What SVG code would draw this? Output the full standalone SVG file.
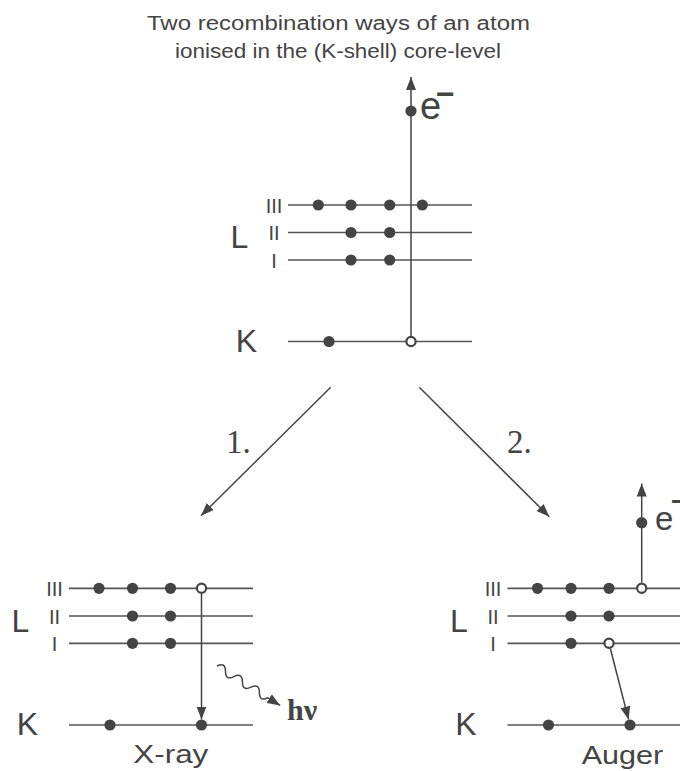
<svg xmlns="http://www.w3.org/2000/svg" width="680" height="771" viewBox="0 0 680 771">
<defs>
<marker id="ah" markerUnits="userSpaceOnUse" markerWidth="14" markerHeight="11" refX="13" refY="5.5" orient="auto" viewBox="0 0 14 11"><path d="M0,0.5 L13,5.5 L0,10.5 z" fill="#444"/></marker>
</defs>
<style>
.lv{stroke:#555;stroke-width:1.7;fill:none}
.d{fill:#444}
.h{fill:#fff;stroke:#444;stroke-width:2.2}
.t{font-family:"Liberation Sans",Arial,sans-serif;fill:#444}
.s{font-family:"Liberation Serif","Times New Roman",serif;fill:#444}
.num{font-size:20px;text-anchor:middle}
.big{font-size:32px;text-anchor:middle}
.ar{stroke:#444;stroke-width:1.5;fill:none;marker-end:url(#ah)}
</style>
<rect width="680" height="771" fill="#fff"/>

<g id="title">
<text class="t" x="147" y="30" font-size="20" textLength="383" lengthAdjust="spacingAndGlyphs">Two recombination ways of an atom</text>
<text class="t" x="175" y="58" font-size="20" textLength="326" lengthAdjust="spacingAndGlyphs">ionised in the (K-shell) core-level</text>
</g>

<g id="atom-ionised">
<path class="lv" d="M288,205H472M288,232.5H472M288,260H472M288,341.5H472"/>
<line class="ar" x1="411" y1="341.5" x2="411" y2="77"/>
<circle class="d" cx="318.3" cy="205" r="5.6"/><circle class="d" cx="351" cy="205" r="5.6"/><circle class="d" cx="389.7" cy="205" r="5.6"/><circle class="d" cx="422.3" cy="205" r="5.6"/>
<circle class="d" cx="351" cy="232.5" r="5.6"/><circle class="d" cx="389.7" cy="232.5" r="5.6"/>
<circle class="d" cx="351" cy="260" r="5.6"/><circle class="d" cx="389.7" cy="260" r="5.6"/>
<circle class="d" cx="329" cy="341.5" r="5.6"/>
<circle class="h" cx="411" cy="341.5" r="4.6"/>
<circle class="d" cx="411" cy="111" r="5.6"/>
<text class="t" x="420" y="119" font-size="38">e<tspan x="436" y="105" font-size="32" font-weight="bold">−</tspan></text>
<text class="t num" x="274" y="212.5">III</text>
<text class="t num" x="274" y="240">II</text>
<text class="t num" x="274" y="267.5">I</text>
<text class="t big" x="239.5" y="248">L</text>
<text class="t big" x="246.5" y="351.5">K</text>
</g>

<g id="connectors">
<line class="ar" x1="330.7" y1="387.3" x2="201" y2="515.7"/>
<line class="ar" x1="419.3" y1="387.3" x2="549.3" y2="516.7"/>
<text class="s" x="226" y="452.7" font-size="33">1.</text>
<text class="s" x="507" y="452.7" font-size="33">2.</text>
</g>

<g id="xray">
<path class="lv" d="M69,588.3H253M69,616H253M69,643.3H253M69,725H253"/>
<line class="ar" x1="201.5" y1="594" x2="201.5" y2="719.5"/>
<circle class="d" cx="99" cy="588.3" r="5.6"/><circle class="d" cx="132.5" cy="588.3" r="5.6"/><circle class="d" cx="170.5" cy="588.3" r="5.6"/>
<circle class="h" cx="201.5" cy="588.3" r="4.6"/>
<circle class="d" cx="132.5" cy="616" r="5.6"/><circle class="d" cx="170.5" cy="616" r="5.6"/>
<circle class="d" cx="132.5" cy="643.3" r="5.6"/><circle class="d" cx="170.5" cy="643.3" r="5.6"/>
<circle class="d" cx="110" cy="725" r="5.6"/><circle class="d" cx="201.5" cy="725" r="5.6"/>
<path class="ar" transform="translate(217,666) rotate(32)" d="M0,0 q5,-8 10,0 t10,0 t10,0 t10,0 t10,0 t10,0 L74.5,0"/>
<text class="s" x="287" y="720" font-size="30" font-weight="bold">hν</text>
<text class="t num" x="54.5" y="595.8">III</text>
<text class="t num" x="54.5" y="623.5">II</text>
<text class="t num" x="54.5" y="650.8">I</text>
<text class="t big" x="20.5" y="631.7">L</text>
<text class="t big" x="27.5" y="735">K</text>
<text class="t" x="133.3" y="763" font-size="25" textLength="75" lengthAdjust="spacingAndGlyphs">X-ray</text>
</g>

<g id="auger">
<path class="lv" d="M507.5,588.3H690M507.5,616H690M507.5,643.3H690M507.5,725H690"/>
<line class="ar" x1="641.7" y1="582.5" x2="641.7" y2="483.5"/>
<line class="ar" x1="610.4" y1="648.7" x2="628.6" y2="719.5"/>
<circle class="d" cx="537.5" cy="588.3" r="5.6"/><circle class="d" cx="571" cy="588.3" r="5.6"/><circle class="d" cx="609" cy="588.3" r="5.6"/>
<circle class="h" cx="641.7" cy="588.3" r="4.6"/>
<circle class="d" cx="571" cy="616" r="5.6"/><circle class="d" cx="609" cy="616" r="5.6"/>
<circle class="d" cx="571" cy="643.3" r="5.6"/>
<circle class="h" cx="609" cy="643.3" r="4.6"/>
<circle class="d" cx="548.5" cy="725" r="5.6"/><circle class="d" cx="630" cy="725" r="5.6"/>
<circle class="d" cx="641.7" cy="522.7" r="5.6"/>
<text class="t" x="655" y="530" font-size="33">e<tspan x="671" y="511" font-size="28" font-weight="bold">−</tspan></text>
<text class="t num" x="493" y="595.8">III</text>
<text class="t num" x="493" y="623.5">II</text>
<text class="t num" x="493" y="650.8">I</text>
<text class="t big" x="459" y="631.7">L</text>
<text class="t big" x="466" y="735">K</text>
<text class="t" x="581.7" y="764" font-size="25" textLength="81.6" lengthAdjust="spacingAndGlyphs">Auger</text>
</g>
</svg>
